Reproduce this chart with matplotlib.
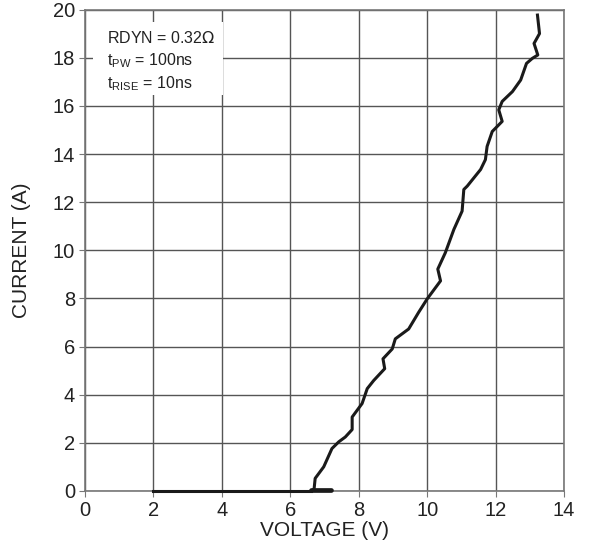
import matplotlib
matplotlib.use("Agg")
import matplotlib.pyplot as plt
from matplotlib.patches import Rectangle

# Rising part of the I-V curve
voltage = [6.66, 6.70, 6.73, 6.98, 7.22, 7.42, 7.61, 7.81, 7.81, 8.10, 8.25, 8.44,
           8.76, 8.71, 8.98, 9.07, 9.46, 9.75, 10.0, 10.39, 10.31, 10.53, 10.78,
           11.02, 11.07, 11.17, 11.56, 11.70, 11.75, 11.90, 12.19, 12.09, 12.19,
           12.49, 12.73, 12.90, 13.07, 13.23, 13.12, 13.28, 13.22]
current = [0.03, 0.10, 0.52, 1.00, 1.76, 2.04, 2.24, 2.55, 3.07, 3.63, 4.25, 4.59,
           5.08, 5.49, 5.90, 6.32, 6.73, 7.42, 7.98, 8.73, 9.22, 9.90, 10.87,
           11.63, 12.53, 12.67, 13.36, 13.77, 14.32, 14.94, 15.36, 15.84, 16.19,
           16.60, 17.08, 17.77, 17.98, 18.12, 18.60, 19.01, 19.78]
# Flat leakage segment along zero
base_voltage = [2.0, 6.6]
base_current = [0.0, 0.0]
blob_voltage = [6.6, 7.2]
blob_current = [0.04, 0.04]

xticks = [0, 2, 4, 6, 8, 10, 12, 14]
yticks = [0, 2, 4, 6, 8, 10, 12, 14, 16, 18, 20]

plt.rcParams['font.family'] = ['Liberation Sans', 'DejaVu Sans']

fig = plt.figure(figsize=(5.92, 5.43), dpi=100)
ax = fig.add_axes([0.143, 0.096, 0.810, 0.886])

ax.plot(voltage, current, color='#1a1a1a', lw=2.2, solid_joinstyle='round')
ax.plot(base_voltage, base_current, color='#1a1a1a', lw=2.2,
        zorder=5, clip_on=False)
ax.plot(blob_voltage, blob_current, color='#1a1a1a', lw=3.4,
        solid_capstyle='round', zorder=5, clip_on=False)

ax.set_xlim(0, 14)
ax.set_ylim(0, 20)
ax.set_xticks(xticks)
ax.set_yticks(yticks)
ax.grid(True, color='#555555', lw=1.0)
ax.set_axisbelow(True)
for s in ax.spines.values():
    s.set_color('#777777')
    s.set_linewidth(1.2)
ax.tick_params(labelsize=14.5, length=4, pad=3, color='#777777', labelcolor='#222222')
ax.set_xlabel('VOLTAGE (V)', fontsize=15, color='#222222', va='center')
ax.set_ylabel('CURRENT (A)', fontsize=15, color='#222222', va='center')
ax.xaxis.set_label_coords(0.5, -0.083)
ax.yaxis.set_label_coords(-0.131, 0.5)

# white note box covering the grid
ax.add_patch(Rectangle((0.24, 16.45), 3.8, 3.05, facecolor='white',
                       edgecolor='none', zorder=1.5))
ax.text(0.65, 19.15,
        'RDYN = 0.32$\\Omega$\n$\\mathregular{t_{PW}}$ = 100ns\n$\\mathregular{t_{RISE}}$ = 10ns',
        fontsize=11.5, va='top', ha='left', color='#222222', linespacing=1.35,
        zorder=3)

fig.savefig('out.png', dpi=100)
